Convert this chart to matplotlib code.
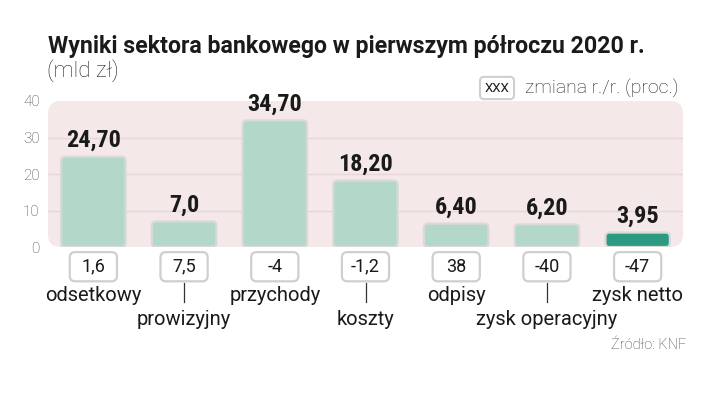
import matplotlib
matplotlib.use("Agg")
import matplotlib.pyplot as plt
from matplotlib.patches import FancyBboxPatch
from matplotlib import font_manager

categories = ["odsetkowy", "prowizyjny", "przychody", "koszty", "odpisy", "zysk operacyjny", "zysk netto"]
values = [24.70, 7.0, 34.70, 18.20, 6.40, 6.20, 3.95]
value_labels = ["24,70", "7,0", "34,70", "18,20", "6,40", "6,20", "3,95"]
changes = ["1,6", "7,5", "-4", "-1,2", "38", "-40", "-47"]
yticks = [0, 10, 20, 30, 40]

available = {f.name for f in font_manager.fontManager.ttflist}
def pick(names):
    for n in names:
        if n in available:
            return n
    return "DejaVu Sans"
cond = pick(["Roboto Condensed", "Liberation Sans Narrow", "Roboto"])
base = pick(["Roboto", "Lato", "DejaVu Sans"])

plt.rcParams['font.family'] = [base, 'DejaVu Sans']

W, H = 720, 394
fig = plt.figure(figsize=(7.2, 3.94), dpi=100)
ax_l, ax_r, ax_t, ax_b = 48, 683, 101, 247
ax = fig.add_axes([ax_l / W, 1 - ax_b / H, (ax_r - ax_l) / W, (ax_b - ax_t) / H])
ax.set_xlim(-0.5, len(categories) - 0.5)
ax.set_ylim(0, 40)
for s in ax.spines.values():
    s.set_visible(False)
ax.set_xticks([])
ax.set_yticks(yticks)
ax.set_yticklabels([str(t) for t in yticks], color="#444444", fontsize=11, fontweight="light")
ax.tick_params(axis="y", length=0, pad=6)
ax.patch.set_alpha(0)

px_w = ax_r - ax_l
px_h = ax_b - ax_t
# pink rounded background
bg = FancyBboxPatch((0, 0), 1, 1.0, boxstyle="round,pad=0,rounding_size=0.02",
                    mutation_aspect=px_w / px_h, transform=ax.transAxes,
                    facecolor="#f4e8e9", edgecolor="none", zorder=0, clip_on=False)
ax.add_patch(bg)
for t in yticks[1:-1]:
    ax.axhline(t, color="#e8d6d8", lw=1.0, zorder=1)

x = list(range(len(categories)))
bars = ax.bar(x, values, width=0.71, alpha=0)
xunit = px_w / len(categories)
yunit = px_h / 40.0
asp = xunit / yunit
colors = ["#b3d8c9"] * 6 + ["#2a9b80"]
for b, c in zip(bars, colors):
    p = FancyBboxPatch((b.get_x(), b.get_y()), b.get_width(), b.get_height(),
                       boxstyle="round,pad=0,rounding_size=0.045", mutation_aspect=asp,
                       facecolor=c, edgecolor="#d9d9d9", lw=1.6, zorder=3)
    ax.add_patch(p)

for xi, v, lab in zip(x, values, value_labels):
    ax.text(xi, v + 1.3, lab, ha="center", va="bottom", fontsize=17.5,
            fontweight="bold", family=[cond, 'DejaVu Sans'], color="#1a1a1a", zorder=4)

# change boxes
bw = 0.52
for xi, ch in zip(x, changes):
    p = FancyBboxPatch((xi - bw / 2, -9.4), bw, 8.0,
                       boxstyle="round,pad=0,rounding_size=0.06", mutation_aspect=asp,
                       facecolor="white", edgecolor="#cfcfcf", lw=1.6, zorder=3, clip_on=False)
    ax.add_patch(p)
    ax.text(xi, -5.4, ch, ha="center", va="center", fontsize=13, color="#1a1a1a",
            zorder=4, clip_on=False)

for i, (xi, cat) in enumerate(zip(x, categories)):
    if i % 2 == 0:
        ax.text(xi, -13.4, cat, ha="center", va="center", fontsize=14.5, color="#1a1a1a", clip_on=False)
    else:
        ax.plot([xi, xi], [-9.8, -15.0], color="#333333", lw=0.9, clip_on=False)
        ax.text(xi, -19.8, cat, ha="center", va="center", fontsize=14.5, color="#1a1a1a", clip_on=False)

fig.text(48 / W, 1 - 47 / H, "Wyniki sektora bankowego w pierwszym półroczu 2020 r.",
         ha="left", va="center", fontsize=16.7, fontweight="bold", color="#1a1a1a")
fig.text(47 / W, 1 - 71 / H, "(mld zł)", ha="left", va="center", fontsize=16,
         fontweight="light", color="#222222")

fig.text(497 / W, 1 - 88 / H, "XXX", ha="center", va="center", fontsize=9.5, color="#1a1a1a",
         bbox=dict(boxstyle="round,pad=0.35,rounding_size=0.3", facecolor="white",
                   edgecolor="#cfcfcf", lw=1.5))
fig.text(525 / W, 1 - 88 / H, "zmiana r./r. (proc.)", ha="left", va="center", fontsize=14,
         fontweight="light", color="#222222")
fig.text(686 / W, 1 - 345 / H, "Źródło: KNF", ha="right", va="center", fontsize=10.5,
         fontweight="light", color="#444444")

fig.savefig("out.png", dpi=100)
